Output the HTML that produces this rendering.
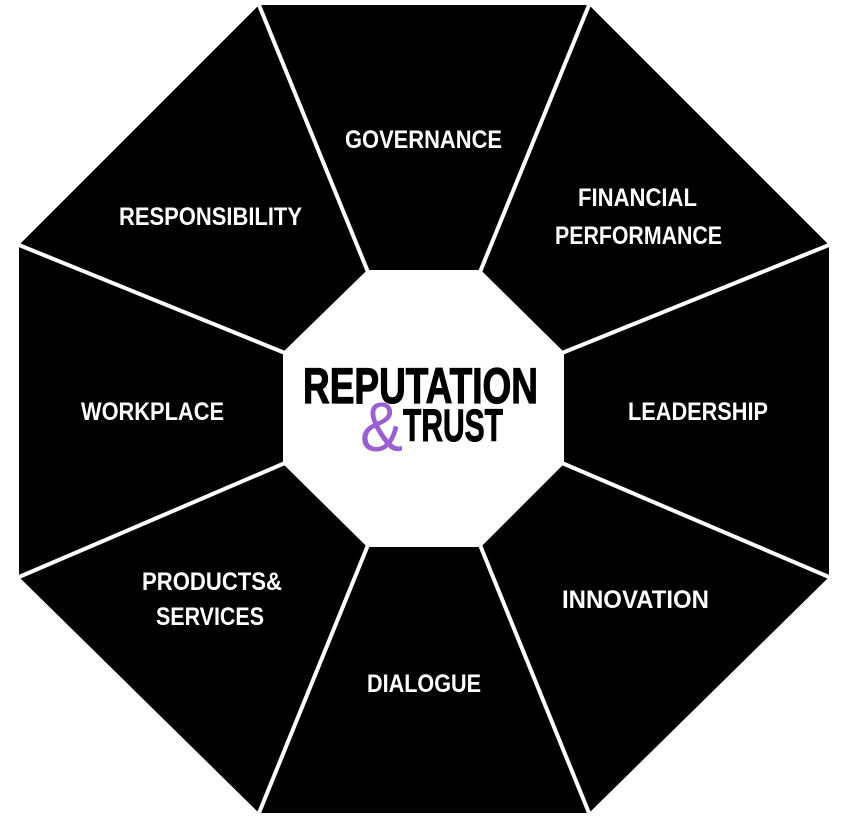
<!DOCTYPE html>
<html><head><style>html,body{margin:0;padding:0;background:#fff;}svg{display:block}</style></head>
<body>
<svg width="848" height="819" viewBox="0 0 848 819" xmlns="http://www.w3.org/2000/svg">
<polygon points="259,5 589,5 829,245 829,577 589,813 259,813 19,577 19,245" fill="#000"/>
<g stroke="#fff" stroke-width="4">
<line x1="368" y1="272" x2="259" y2="5"/>
<line x1="480" y1="272" x2="589" y2="5"/>
<line x1="562" y1="353" x2="829" y2="245"/>
<line x1="562" y1="463" x2="829" y2="577"/>
<line x1="480" y1="545" x2="589" y2="813"/>
<line x1="368" y1="545" x2="259" y2="813"/>
<line x1="285" y1="463" x2="19" y2="577"/>
<line x1="285" y1="353" x2="19" y2="245"/>
</g>
<polygon points="368,272 480,272 562,353 562,463 480,545 368,545 285,463 285,353" fill="#fff" stroke="#fff" stroke-width="4"/>
<g fill="#fff" font-family="Liberation Sans, sans-serif" font-weight="bold" font-size="25">
<text x="345" y="148" textLength="157" lengthAdjust="spacingAndGlyphs">GOVERNANCE</text>
<text x="578" y="206" textLength="119" lengthAdjust="spacingAndGlyphs">FINANCIAL</text>
<text x="555" y="244" textLength="167" lengthAdjust="spacingAndGlyphs">PERFORMANCE</text>
<text x="119" y="225" textLength="183" lengthAdjust="spacingAndGlyphs">RESPONSIBILITY</text>
<text x="81" y="420" textLength="143" lengthAdjust="spacingAndGlyphs">WORKPLACE</text>
<text x="628" y="420" textLength="140" lengthAdjust="spacingAndGlyphs">LEADERSHIP</text>
<text x="142" y="590" textLength="140" lengthAdjust="spacingAndGlyphs">PRODUCTS&amp;</text>
<text x="156" y="625" textLength="108" lengthAdjust="spacingAndGlyphs">SERVICES</text>
<text x="562" y="608" textLength="147" lengthAdjust="spacingAndGlyphs">INNOVATION</text>
<text x="367" y="692" textLength="114" lengthAdjust="spacingAndGlyphs">DIALOGUE</text>
</g>
<text x="303" y="403" font-family="Liberation Sans, sans-serif" font-weight="bold" font-size="50" fill="#000" stroke="#000" stroke-width="1.2" textLength="235" lengthAdjust="spacingAndGlyphs">REPUTATION</text>
<text x="360" y="451" font-family="Liberation Sans, sans-serif" font-size="70" fill="#9a5fd0" textLength="43" lengthAdjust="spacingAndGlyphs">&amp;</text>
<text x="403" y="441" font-family="Liberation Sans, sans-serif" font-weight="bold" font-size="45" fill="#000" stroke="#000" stroke-width="1" textLength="100" lengthAdjust="spacingAndGlyphs">TRUST</text>
</svg>
</body></html>
